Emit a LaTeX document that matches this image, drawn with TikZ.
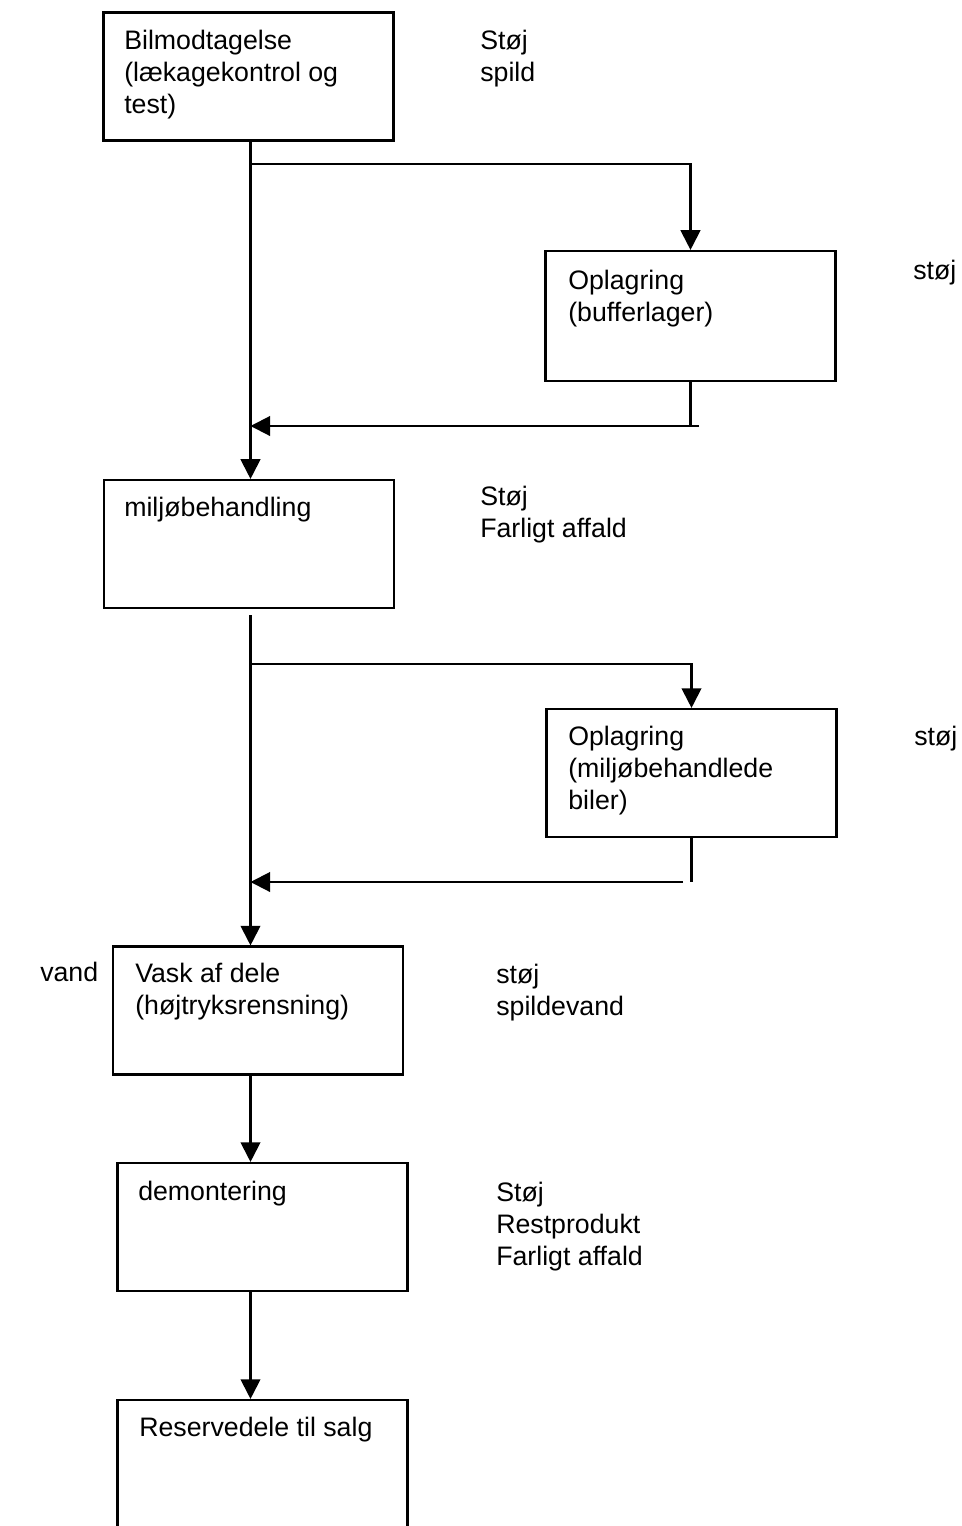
\documentclass[tikz,border=0pt]{standalone}
\usepackage{fontspec}
\setmainfont{Liberation Sans}
\usetikzlibrary{arrows.meta,positioning}

\begin{document}
\begin{tikzpicture}[
    x=0.025cm, y=-0.025cm,
    box/.style={draw, rectangle, line width=1.5pt, minimum width=7.25cm, minimum height=3.2cm, inner sep=0pt},
    txt/.style={anchor=base west, align=left, inner sep=0pt, font=\fontsize{19}{22.7}\selectfont},
    arrow/.style={-{Triangle[length=14pt, width=14pt]}, line width=1.5pt},
    line/.style={line width=1.5pt}
]
    \clip (0,0) rectangle (961,1526);

    % Process steps
    \node[box] (car_reception) at (248.5,76.5) {};
    \node[box, minimum height=3.25cm] (buffer_store) at (690.5,316) {};
    \node[box] (env_treatment) at (249,544) {};
    \node[box] (treated_store) at (691.5,773) {};
    \node[box] (parts_wash) at (258,1010.5) {};
    \node[box] (dismantling) at (262.5,1227) {};
    \node[box, minimum height=4cm] (spare_parts) at (262.5,1480) {};

    % Box texts (placed by the baseline of their last line)
    \node[txt] (car_reception_txt) at (124,113) {Bilmodtagelse\\(lækagekontrol og\\test)};
    \node[txt] (buffer_store_txt) at (568,321) {Oplagring\\(bufferlager)};
    \node[txt] (env_treatment_txt) at (124,516) {miljøbehandling};
    \node[txt] (treated_store_txt) at (568,809) {Oplagring\\(miljøbehandlede\\biler)};
    \node[txt] (parts_wash_txt) at (135,1014) {Vask af dele\\(højtryksrensning)};
    \node[txt] (dismantling_txt) at (138,1200) {demontering};
    \node[txt] (spare_parts_txt) at (139,1436) {Reservedele til salg};

    % Emissions and inputs
    \node[txt] (emit_reception) at (480,81) {Støj\\spild};
    \node[txt] (emit_buffer) at (913,279) {støj};
    \node[txt] (emit_env) at (480,537) {Støj\\Farligt affald};
    \node[txt] (emit_treated) at (914,745) {støj};
    \node[txt] (input_wash) at (40,981) {vand};
    \node[txt] (emit_wash) at (496,1015) {støj\\spildevand};
    \node[txt] (emit_dismantling) at (496,1265) {Støj\\Restprodukt\\Farligt affald};

    % Flow
    \coordinate (spine) at (250.5,0);
    \coordinate (split_1) at (250.5,164);
    \coordinate (merge_1) at (250.5,426);
    \coordinate (back_1) at (699,426);
    \coordinate (split_2) at (250.5,664);
    \coordinate (merge_2) at (250.5,882);
    \coordinate (back_2) at (683,882);

    \draw[arrow] (car_reception.south -| spine) -- (env_treatment.north -| spine);
    \draw[arrow] (split_1) -| (buffer_store.north);
    \draw[line] (buffer_store.south) -- (buffer_store.south |- back_1);
    \draw[arrow] (back_1) -- (merge_1);

    \draw[arrow] ([yshift=-0.15cm]env_treatment.south -| spine) -- (parts_wash.north -| spine);
    \draw[arrow] (split_2) -| (treated_store.north);
    \draw[line] (treated_store.south) -- (treated_store.south |- back_2);
    \draw[arrow] (back_2) -- (merge_2);

    \draw[arrow] (parts_wash.south -| spine) -- (dismantling.north -| spine);
    \draw[arrow] (dismantling.south -| spine) -- (spare_parts.north -| spine);
\end{tikzpicture}
\end{document}
